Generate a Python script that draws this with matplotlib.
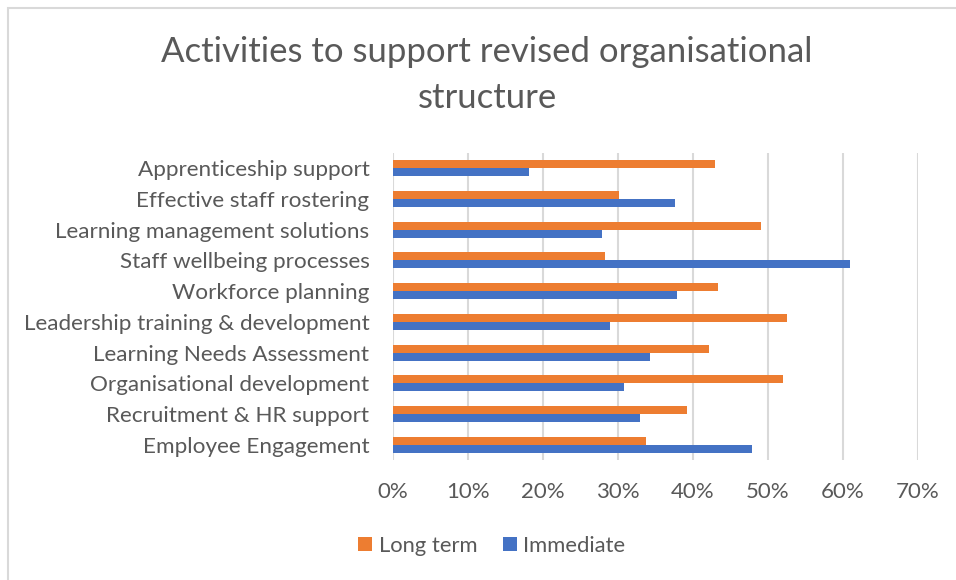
import matplotlib
matplotlib.use("Agg")
import matplotlib.pyplot as plt
from matplotlib.patches import Rectangle
from matplotlib.ticker import PercentFormatter
import numpy as np

categories = [
    "Apprenticeship support",
    "Effective staff rostering",
    "Learning management solutions",
    "Staff wellbeing processes",
    "Workforce planning",
    "Leadership training & development",
    "Learning Needs Assessment",
    "Organisational development",
    "Recruitment & HR support",
    "Employee Engagement",
]
long_term = [42.9, 30.1, 49.0, 28.2, 43.3, 52.5, 42.1, 52.0, 39.2, 33.7]
immediate = [18.1, 37.6, 27.9, 60.9, 37.8, 28.9, 34.2, 30.8, 32.9, 47.9]
x_ticks = [0, 10, 20, 30, 40, 50, 60, 70]

plt.rcParams['font.family'] = ['Lato', 'DejaVu Sans']
TXT = '#595959'
ORANGE = '#ED7D31'
BLUE = '#4472C4'
GRID = '#d9d9d9'

fig = plt.figure(figsize=(9.56, 5.8), dpi=100)
fig.patch.set_facecolor('white')

# outer chart border
fig.patches.append(Rectangle((7.5/956, -0.1), 1.2, (1 - 8/580) + 0.1,
                             transform=fig.transFigure, fill=False,
                             edgecolor=GRID, linewidth=1.5))

ax = fig.add_axes([393/956, 1 - 460/580, (918 - 393)/956, (460 - 153)/580])

n = len(categories)
ypos = np.arange(n)[::-1]  # first category at top
h = 0.26
ax.barh(ypos + h/2, long_term, height=h, color=ORANGE, label='Long term', zorder=3)
ax.barh(ypos - h/2, immediate, height=h, color=BLUE, label='Immediate', zorder=3)

ax.set_xlim(0, 70)
ax.set_ylim(-0.5, n - 0.5)
ax.set_xticks(x_ticks)
ax.xaxis.set_major_formatter(PercentFormatter(decimals=0))
ax.set_yticks(ypos)
ax.set_yticklabels(categories)

for s in ax.spines.values():
    s.set_visible(False)
ax.grid(axis='x', color=GRID, linewidth=1.5, zorder=0)
ax.tick_params(axis='x', length=0, pad=16, labelsize=16, labelcolor=TXT)
ax.tick_params(axis='y', length=0, pad=17, labelsize=16.2, labelcolor=TXT)

fig.text(487/956, 1 - 52/580, "Activities to support revised organisational",
         ha='center', va='center', fontsize=25, color=TXT)
fig.text(487/956, 1 - 98/580, "structure",
         ha='center', va='center', fontsize=25, color=TXT)

leg = fig.legend(loc='center', bbox_to_anchor=(492/956, 1 - 546/580), ncol=2,
                 frameon=False, fontsize=15.8, handlelength=0.62, handleheight=0.62,
                 handletextpad=0.3, columnspacing=1.19, labelcolor=TXT)

fig.savefig('out.png', dpi=100, facecolor='white')
